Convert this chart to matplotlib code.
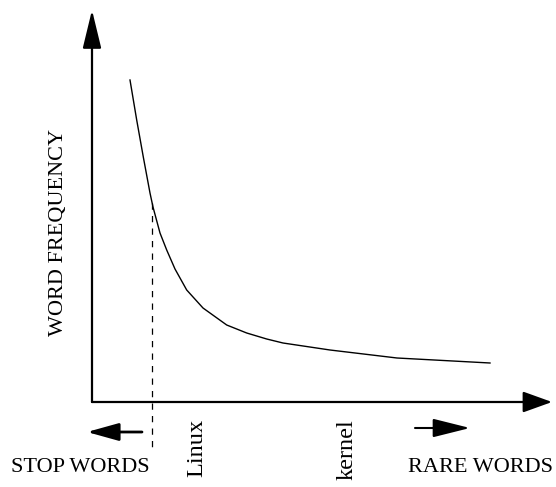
import matplotlib.pyplot as plt

# word rank vs frequency (Zipf-like curve)
rank = [38, 44.7, 51.3, 58, 61, 68, 74.7, 83, 94.7, 111, 134.7, 154.7,
        174.7, 191, 238, 305, 398]
frequency = [322, 282, 245, 209, 195, 169, 152, 133, 112, 94, 77, 69,
             63, 59, 52, 44, 39]
stop_cutoff = 60
words = ['Linux', 'kernel']
word_rank = [105, 255]

plt.rcParams['font.family'] = ['Liberation Serif', 'DejaVu Serif']

fig = plt.figure(figsize=(5.56, 4.87), dpi=100)
ax = fig.add_axes([0, 0, 1, 1])
ax.set_xlim(-92, 464)
ax.set_ylim(-85, 402)
ax.axis('off')


def arrow(tail, tip, length, width, lw=1.6):
    # length/width in pixels -> points at 100 dpi
    style = '-|>,head_length=%g,head_width=%g' % (length * 0.72 / 10, width * 0.36 / 10)
    ax.annotate('', xy=tip, xytext=tail,
                arrowprops=dict(arrowstyle=style, mutation_scale=10, lw=lw,
                                color='k', shrinkA=0, shrinkB=0))


# axes
arrow((0, 0), (0, 392), 33, 16)
arrow((0, 0), (460, 0), 25, 18)

ax.plot(rank, frequency, color='k', lw=1.0)
ax.plot([stop_cutoff, stop_cutoff], [199, -50], color='k', lw=0.9,
        linestyle=(0, (5, 5)))

# direction arrows under the x axis
arrow((50, -30), (-5, -30), 27, 15, lw=2)
arrow((323, -26), (378, -26), 32, 16, lw=1.5)

ax.text(-12, -66, 'STOP WORDS', fontsize=16, ha='center', va='center')
ax.text(388, -66, 'RARE WORDS', fontsize=16, ha='center', va='center')
for w, r in zip(words, word_rank):
    ax.text(r, -17, w, fontsize=17.5, rotation=90, ha='center', va='top')
ax.text(-34, 170, 'WORD FREQUENCY', fontsize=16, rotation=90,
        ha='center', va='center')

fig.savefig('out.png', dpi=100)
